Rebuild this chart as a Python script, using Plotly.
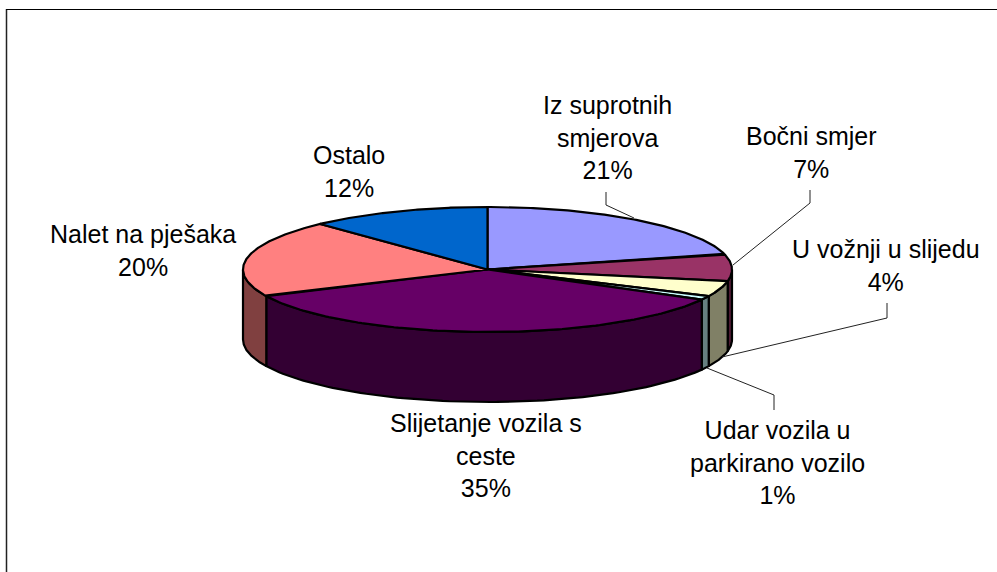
import numpy as np
import plotly.graph_objects as go

categories = ["Iz suprotnih<br>smjerova", "Bočni smjer", "U vožnji u slijedu",
              "Udar vozila u<br>parkirano vozilo", "Slijetanje vozila s<br>ceste",
              "Nalet na pješaka", "Ostalo"]
values = [21, 7, 4, 1, 35, 20, 12]
top_colors = ["#9999FF", "#993366", "#FFFFCC", "#CCFFFF", "#660066", "#FF8080", "#0066CC"]
side_colors = ["#4D4D80", "#4D1A33", "#808066", "#668080", "#330033", "#804040", "#003366"]
label_xy = [(607, 137), (811, 152), (886, 265), (777, 462), (486, 455), (143, 250), (349, 171)]

CX, CY, RX, RY, DEPTH = 487.5, 269.5, 244.5, 62.5, 70

fractions = np.cumsum([0] + values) / sum(values) * 2 * np.pi


def px(t):
    return CX + RX * np.sin(t)


def py(t, drop=0):
    return CY - RY * np.cos(t) + drop


fig = go.Figure()

# side walls
for i in range(len(values)):
    a, b = max(fractions[i], np.pi / 2), min(fractions[i + 1], 3 * np.pi / 2)
    if b <= a:
        continue
    t = np.linspace(a, b, 80)
    xs = np.r_[px(t), px(t[::-1]), px(t[0])]
    ys = np.r_[py(t), py(t[::-1], DEPTH), py(t[0])]
    fig.add_trace(go.Scatter(x=xs, y=ys, mode="lines", fill="toself", fillcolor=side_colors[i],
                             line=dict(color="black", width=2.2), hoverinfo="skip"))

# top faces
for i in range(len(values)):
    t = np.linspace(fractions[i], fractions[i + 1], 120)
    xs = np.r_[CX, px(t), CX]
    ys = np.r_[CY, py(t), CY]
    fig.add_trace(go.Scatter(x=xs, y=ys, mode="lines", fill="toself", fillcolor=top_colors[i],
                             line=dict(color="black", width=2.2), hoverinfo="skip"))

# leader lines
leaders = [
    [(606, 192), (606, 205), (634, 218)],
    [(810, 190), (810, 203), (733, 265)],
    [(887, 303), (887, 318), (722, 357)],
    [(774, 410), (774, 395), (707, 368)],
]
for pts in leaders:
    fig.add_trace(go.Scatter(x=[p[0] for p in pts], y=[p[1] for p in pts], mode="lines",
                             line=dict(color="#222222", width=1), hoverinfo="skip"))

annotations = [
    dict(x=x, y=y, text=f"{c}<br>{v}%", showarrow=False, xanchor="center", yanchor="middle", align="center",
         font=dict(family="Liberation Sans, Arial, sans-serif", size=25, color="black"))
    for c, v, (x, y) in zip(categories, values, label_xy)
]

shapes = [
    dict(type="line", x0=6.5, x1=6.5, y0=9, y1=572, line=dict(color="#222222", width=1.5)),
    dict(type="line", x0=6, x1=997, y0=9.5, y1=9.5, line=dict(color="black", width=1)),
]

fig.update_layout(
    width=997, height=572, margin=dict(l=0, r=0, t=0, b=0),
    paper_bgcolor="white", plot_bgcolor="white", showlegend=False,
    xaxis=dict(range=[0, 997], visible=False, fixedrange=True),
    yaxis=dict(range=[572, 0], visible=False, fixedrange=True),
    annotations=annotations, shapes=shapes,
)
fig.write_html("out.html", config={"displayModeBar": False},
               post_script="document.body.style.margin='0';document.body.style.overflow='hidden';")
